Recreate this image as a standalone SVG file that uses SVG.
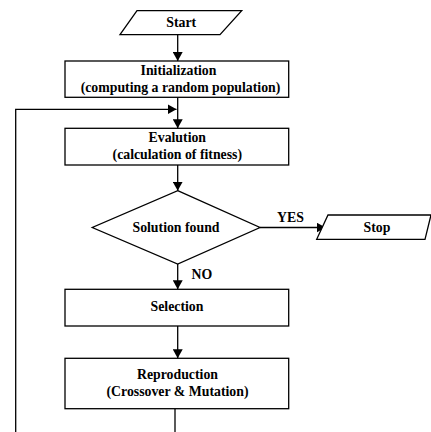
<svg xmlns="http://www.w3.org/2000/svg" width="431" height="432" viewBox="0 0 431 432">
<defs>
<marker id="ah" markerWidth="9" markerHeight="10" refX="9" refY="5" orient="auto" markerUnits="userSpaceOnUse">
<path d="M0,0 L9,5 L0,10 Z" fill="#000"/>
</marker>
<style>
.s{fill:#fff;stroke:#000;stroke-width:1.3}
.c{fill:none;stroke:#000;stroke-width:1.3}
text{font-family:"Liberation Serif","Times New Roman",serif;font-weight:bold;font-size:13.8px;fill:#000}
.m{text-anchor:middle}
</style>
</defs>
<rect width="431" height="432" fill="#fff"/>
<g id="connectors">
<path class="c" d="M177.7,35 V61" marker-end="url(#ah)"/>
<path class="c" d="M177.7,97.3 V128.3" marker-end="url(#ah)"/>
<path class="c" d="M15.7,432 V109.3 H176.5" marker-end="url(#ah)"/>
<path class="c" d="M177.7,165 V190.7" marker-end="url(#ah)"/>
<path class="c" d="M260,227.5 H325.5" marker-end="url(#ah)"/>
<path class="c" d="M177.7,264 V289.3" marker-end="url(#ah)"/>
<path class="c" d="M177.7,326 V358.3" marker-end="url(#ah)"/>
<path class="c" d="M175,408.7 V432"/>
<text x="277" y="221.7">YES</text>
<text x="191.5" y="279.3">NO</text>
</g>
<g id="start">
<polygon class="s" points="137,10.7 241.7,10.7 220,34.7 120,34.7"/>
<text class="m" x="181.2" y="26.7">Start</text>
</g>
<g id="init">
<rect class="s" x="65" y="61" width="223.7" height="36.3"/>
<text class="m" x="178.5" y="75">Initialization</text>
<text class="m" x="180.5" y="91.5">(computing a random population)</text>
</g>
<g id="eval">
<rect class="s" x="65" y="128.3" width="223.7" height="36.7"/>
<text class="m" x="177.3" y="141.7">Evalution</text>
<text class="m" x="177.3" y="159.3">(calculation of fitness)</text>
</g>
<g id="decision">
<polygon class="s" points="177.7,190.7 260,227.5 177.7,264 92.3,227.5"/>
<text class="m" x="176" y="231.7">Solution found</text>
</g>
<g id="stop">
<polygon class="s" points="328,215 431,215 425,239.3 316.7,239.3"/>
<text class="m" x="377" y="231.7">Stop</text>
</g>
<g id="selection">
<rect class="s" x="65" y="289.3" width="223.7" height="36.7"/>
<text class="m" x="177" y="310.7">Selection</text>
</g>
<g id="reproduction">
<rect class="s" x="65" y="358.3" width="223.7" height="50.4"/>
<text class="m" x="177.5" y="379">Reproduction</text>
<text class="m" x="177.5" y="395.7">(Crossover &amp; Mutation)</text>
</g>
</svg>
